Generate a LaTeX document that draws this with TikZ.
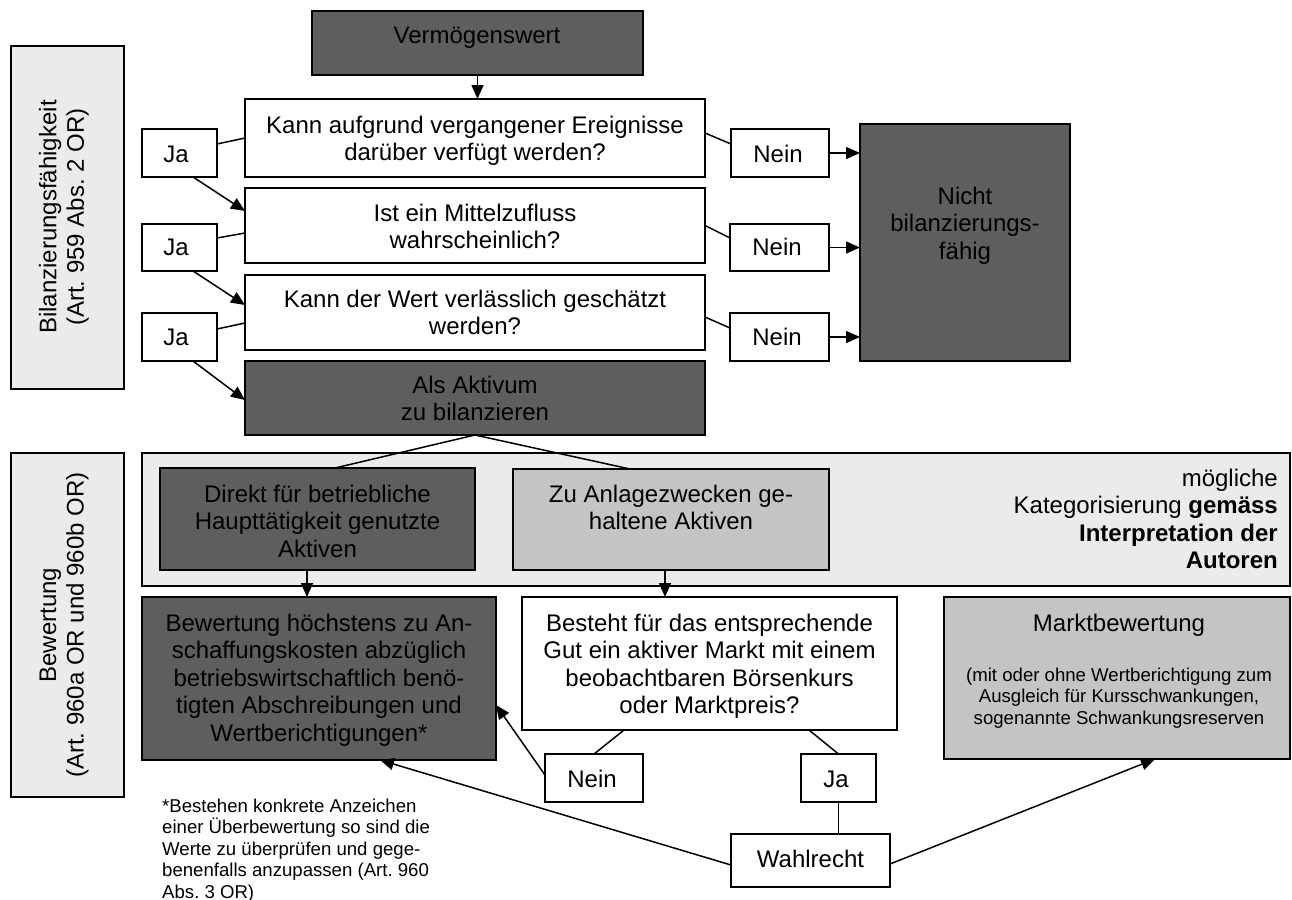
\documentclass[tikz,border=0pt]{standalone}
\usepackage{fontspec}
\setmainfont{Liberation Sans}
\usetikzlibrary{arrows.meta,calc}
\definecolor{dk}{HTML}{5E5E5E}
\definecolor{md}{HTML}{C4C4C4}
\definecolor{lt}{HTML}{EBEBEB}
\frenchspacing
\begin{document}
\begin{tikzpicture}[x=1pt,y=-1pt,
  box/.style={draw=black, line width=1.6pt, inner sep=0pt, outer sep=0pt, anchor=north west},
  ln/.style={line width=1.5pt},
  arr/.style={line width=1.5pt, -{Triangle[length=14pt,width=12pt]}},
  big/.style={font=\fontsize{24}{27.5}\selectfont, align=center, inner sep=0pt, anchor=base},
  sm/.style={font=\fontsize{18.6}{21.5}\selectfont, inner sep=0pt}]
\useasboundingbox (0,0) rectangle (1292,899);
% boxes
\node[box, fill=lt, minimum width=113pt, minimum height=343pt] (labA) at (11,46) {};
\node[box, fill=dk, minimum width=331pt, minimum height=64pt] (verm) at (312,11) {};
\node[box, fill=white, minimum width=460pt, minimum height=78pt] (q1) at (245,99) {};
\node[box, fill=white, minimum width=460pt, minimum height=75pt] (q2) at (245,188) {};
\node[box, fill=white, minimum width=460pt, minimum height=75pt] (q3) at (245,275) {};
\node[box, fill=dk, minimum width=460pt, minimum height=74pt] (akt) at (245,361) {};
\node[box, fill=white, minimum width=75pt, minimum height=48pt] (ja1) at (142,129) {};
\node[box, fill=white, minimum width=75pt, minimum height=47pt] (ja2) at (142,224) {};
\node[box, fill=white, minimum width=75pt, minimum height=48pt] (ja3) at (142,313) {};
\node[box, fill=white, minimum width=98pt, minimum height=48pt] (nein1) at (731,129) {};
\node[box, fill=white, minimum width=99pt, minimum height=47pt] (nein2) at (730,224) {};
\node[box, fill=white, minimum width=99pt, minimum height=48pt] (nein3) at (730,313) {};
\node[box, fill=dk, minimum width=210pt, minimum height=237pt] (nicht) at (860,124) {};
\node[box, fill=lt, minimum width=113pt, minimum height=344pt] (labB) at (11,453) {};
\node[box, fill=lt, minimum width=1148pt, minimum height=133pt] (cat) at (142,453) {};
\node[box, fill=dk, minimum width=315pt, minimum height=102pt] (direkt) at (160,468) {};
\node[box, fill=md, minimum width=316pt, minimum height=101pt] (anlage) at (513,469) {};
\node[box, fill=dk, minimum width=354pt, minimum height=163pt] (bewh) at (142,597) {};
\node[box, fill=white, minimum width=375pt, minimum height=133pt] (besteht) at (522,597) {};
\node[box, fill=md, minimum width=346pt, minimum height=162pt] (markt) at (944,597) {};
\node[box, fill=white, minimum width=98pt, minimum height=48pt] (neinB) at (545,754) {};
\node[box, fill=white, minimum width=75pt, minimum height=48pt] (jaB) at (801,754) {};
\node[box, fill=white, minimum width=159pt, minimum height=53pt] (wahl) at (731,834) {};
% texts
\node[big, anchor=center, rotate=90] (tA) at (64,217) {Bilanzierungsfähigkeit\\(Art. 959 Abs. 2 OR)};
\node[big, anchor=center, rotate=90] (tB) at (64,625) {Bewertung\\(Art. 960a OR und 960b OR)};
\node[big] (tverm) at (477,44) {Vermögenswert};
\node[big] (tq1) at (475,160.5) {Kann aufgrund vergangener Ereignisse\\darüber verfügt werden?};
\node[big] (tq2) at (475,248.5) {Ist ein Mittelzufluss\\wahrscheinlich?};
\node[big] (tq3) at (475,334.5) {Kann der Wert verlässlich geschätzt\\werden?};
\node[big] (takt) at (475,420.5) {Als Aktivum\\zu bilanzieren};
\node[big] (tja1) at (176,162) {Ja};
\node[big] (tja2) at (176,255) {Ja};
\node[big] (tja3) at (176,345) {Ja};
\node[big] (tn1) at (778,162) {Nein};
\node[big] (tn2) at (777,255) {Nein};
\node[big] (tn3) at (777,345) {Nein};
\node[big] (tnicht) at (965,259) {Nicht\\bilanzierungs-\\fähig};
\node[big] (tdir) at (317.5,557) {Direkt für betriebliche\\Haupttätigkeit genutzte\\Aktiven};
\node[big] (tanl) at (671,529.5) {Zu Anlagezwecken ge-\\haltene Aktiven};
\node[big, align=right, anchor=base east] (tcat) at (1278,568.5) {mögliche\\Kategorisierung \textbf{gemäss}\\\textbf{Interpretation der}\\\textbf{Autoren}};
\node[big] (tbewh) at (319,741) {Bewertung höchstens zu An-\\schaffungskosten abzüglich\\betriebswirtschaftlich benö-\\tigten Abschreibungen und\\Wertberichtigungen*};
\node[big] (tbest) at (709.5,713.5) {Besteht für das entsprechende\\Gut ein aktiver Markt mit einem\\beobachtbaren Börsenkurs\\oder Marktpreis?};
\node[big] (tmarkt) at (1119,631) {Marktbewertung};
\node[sm, align=center, anchor=base] (tmarkt2) at (1119,724) {(mit oder ohne Wertberichtigung zum\\Ausgleich für Kursschwankungen,\\sogenannte Schwankungsreserven};
\node[big] (tneinB) at (592,787) {Nein};
\node[big] (tjaB) at (836,787) {Ja};
\node[big] (twahl) at (810.5,867) {Wahlrecht};
\node[sm, align=left, anchor=base west] (tfoot) at (162,898) {*Bestehen konkrete Anzeichen\\einer Überbewertung so sind die\\Werte zu überprüfen und gege-\\benenfalls anzupassen (Art. 960\\Abs. 3 OR)};
% connectors
\draw[arr] (verm.south) -- (verm.south |- q1.north);
\draw[ln] ([yshift=9pt]ja1.east) -- (q1.west);
\draw[arr] ([xshift=13.5pt]ja1.south) -- ([yshift=14.5pt]q2.west);
\draw[ln] ([yshift=9.5pt]ja2.east) -- ([yshift=-7.5pt]q2.west);
\draw[arr] ([xshift=13.5pt]ja2.south) -- ([yshift=7.5pt]q3.west);
\draw[ln] ([yshift=8pt]ja3.east) -- ([yshift=-10.5pt]q3.west);
\draw[arr] ([xshift=13.5pt]ja3.south) -- ([yshift=-2pt]akt.west);
\draw[ln] ([yshift=5pt]q1.east) -- ([yshift=9pt]nein1.west);
\draw[arr] (nein1.east) -- (nein1.east -| nicht.west);
\draw[ln] (q2.east) -- ([yshift=9.5pt]nein2.west);
\draw[arr] (nein2.east) -- (nein2.east -| nicht.west);
\draw[ln] ([yshift=-4.5pt]q3.east) -- ([yshift=9pt]nein3.west);
\draw[arr] (nein3.east) -- (nein3.east -| nicht.west);
\draw[ln] (akt.south) -- ([xshift=17.5pt]direkt.north);
\draw[ln] (akt.south) -- ([xshift=-41pt]anlage.north);
\draw[arr] ([xshift=-10.5pt]direkt.south) -- ([xshift=-10.5pt]direkt.south |- bewh.north);
\draw[arr] ([xshift=-6pt]anlage.south) -- ([xshift=-6pt]anlage.south |- besteht.north);
\draw[ln] ([xshift=-85.5pt]besteht.south) -- (neinB.north);
\draw[ln] ([xshift=99.5pt]besteht.south) -- (jaB.north);
\draw[arr] ([yshift=3pt]neinB.west) -- ([yshift=-26.5pt]bewh.east);
\draw[ln] (jaB.south) -- (jaB.south |- wahl.north);
\draw[arr] ([yshift=-4.5pt]wahl.west) -- ([xshift=61pt]bewh.south);
\draw[arr] ([yshift=-3.5pt]wahl.east) -- ([xshift=38pt]markt.south);
\end{tikzpicture}
\end{document}
